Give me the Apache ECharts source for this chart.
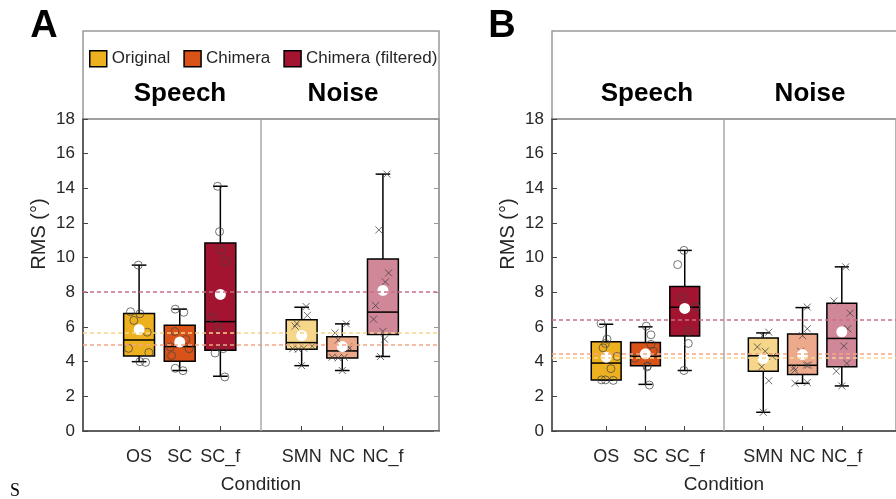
<!DOCTYPE html>
<html lang="en">

<head>
    <meta charset="utf-8">
    <title>RMS by condition</title>
    <script type="text/javascript" src="https://cdn.jsdelivr.net/npm/echarts@6/dist/echarts.min.js"></script>
    <style>
        body { margin: 0; background: #fff; }
        #chart { width: 896px; height: 499px; }
    </style>
</head>

<body>
    <div id="chart"></div>

    <script>
        const conditions = ['OS', 'SC', 'SC_f', 'SMN', 'NC', 'NC_f'];
        const positions = [1, 2, 3, 5, 6, 7];
        const groupNames = ['Original', 'Chimera', 'Chimera (filtered)'];

        // box stats per condition: [min, q1, median, q3, max]
        const boxA = [
            [4.00, 4.32, 5.25, 6.78, 9.57],
            [3.49, 4.02, 4.87, 6.10, 7.03],
            [3.16, 4.66, 6.31, 10.84, 14.12],
            [3.77, 4.72, 5.10, 6.42, 7.14],
            [3.49, 4.21, 4.62, 5.44, 6.18],
            [4.30, 5.57, 6.86, 9.93, 14.82]
        ];
        const boxB = [
            [2.94, 2.94, 3.92, 5.15, 6.16],
            [2.69, 3.77, 4.30, 5.10, 6.01],
            [3.49, 5.48, 7.14, 8.34, 10.42],
            [1.08, 3.45, 4.34, 5.36, 5.66],
            [2.75, 3.26, 3.79, 5.59, 7.12],
            [2.60, 3.71, 5.34, 7.37, 9.47]
        ];
        const meanA = [5.85, 5.13, 7.88, 5.51, 4.87, 8.11];
        const meanB = [4.26, 4.45, 7.07, 4.17, 4.41, 5.72];
        // dashed reference lines (Original, Chimera, Chimera filtered)
        const refLineA = [5.66, 4.96, 8.01];
        const refLineB = [4.21, 4.43, 6.42];

        // single subjects: [x offset, value]
        const ptsA_OS = [[-0.02, 9.57], [-0.21, 6.88], [0.02, 6.76], [-0.13, 6.38], [0.20, 5.70], [-0.26, 4.77], [0.24, 4.53], [0.02, 4.00], [0.16, 3.96]];
        const ptsA_SC = [[-0.11, 7.03], [0.10, 6.85], [-0.12, 5.74], [0.15, 5.28], [-0.23, 4.85], [0.23, 4.75], [-0.20, 4.35], [-0.11, 3.62], [0.08, 3.48]];
        const ptsA_SCf = [[-0.07, 14.12], [-0.02, 11.5], [0.02, 10.45], [0.12, 9.8], [-0.22, 6.55], [-0.06, 6.05], [0.07, 4.75], [-0.13, 4.5], [0.11, 3.12]];
        const ptsA_SMN = [[0.11, 7.18], [0.14, 6.67], [-0.12, 6.2], [-0.16, 6.05], [-0.22, 4.75], [-0.08, 4.72], [0.05, 4.78], [0.26, 4.9], [0.0, 3.77]];
        const ptsA_NC = [[0.10, 6.18], [-0.18, 5.66], [-0.10, 5.25], [0.18, 4.77], [-0.25, 4.26], [-0.10, 4.22], [0.05, 4.25], [0.0, 3.49], [0.15, 4.85]];
        const ptsA_NCf = [[0.10, 14.82], [-0.10, 11.6], [0.14, 9.12], [0.06, 8.6], [-0.18, 7.24], [-0.23, 6.45], [0.0, 5.75], [0.04, 5.3], [-0.06, 4.3]];

        const ptsB_OS = [[-0.13, 6.2], [0.02, 5.3], [-0.02, 5.05], [-0.08, 4.8], [0.28, 4.3], [0.12, 3.6], [-0.12, 2.95], [-0.02, 2.95], [0.18, 2.92]];
        const ptsB_SC = [[0.02, 6.05], [0.14, 5.55], [0.14, 5.0], [0.20, 4.6], [-0.27, 4.2], [0.05, 3.75], [0.04, 3.7], [0.10, 2.65], [0.0, 4.45]];
        const ptsB_SCf = [[-0.02, 10.42], [-0.18, 9.6], [-0.07, 7.7], [0.28, 7.15], [0.09, 5.75], [0.09, 5.05], [-0.02, 3.49]];
        const ptsB_SMN = [[0.14, 5.7], [-0.02, 5.5], [-0.15, 4.85], [0.05, 4.6], [0.24, 4.3], [-0.04, 3.7], [0.14, 2.9], [0.0, 1.08]];
        const ptsB_NC = [[0.12, 7.15], [0.12, 5.9], [0.0, 5.5], [-0.05, 4.6], [-0.22, 3.65], [-0.20, 3.5], [0.10, 3.8], [0.15, 3.8], [-0.19, 2.75], [0.12, 2.8]];
        const ptsB_NCf = [[0.10, 9.47], [-0.20, 7.5], [0.21, 6.8], [0.15, 5.9], [0.05, 4.9], [0.13, 3.9], [-0.14, 3.45], [0.0, 2.6]];

        const fullColor = ['#EDB120', '#D95319', '#A2142F'];
        const lightColor = ['#F6D68B', '#EDA98B', '#D08797'];
        const dashColor = ['#F8D58C', '#F2A585', '#CC6F88'];
        const font = 'Liberation Sans, Arial, sans-serif';

        const chart = echarts.init(document.getElementById('chart'));

        function renderBox(hue) {
            return function (params, api) {
                const x = api.value(0);
                const fill = params.dataIndex === 0 ? fullColor[hue] : lightColor[hue];
                const pt = (dx, v) => api.coord([x + dx, v]);
                const line = { stroke: '#000', lineWidth: 1.5 };
                const top = pt(-0.38, api.value(4));
                const bot = pt(0.38, api.value(2));
                const seg = (a, b) => ({ type: 'line', shape: { x1: a[0], y1: a[1], x2: b[0], y2: b[1] }, style: line });
                return {
                    type: 'group',
                    children: [
                        seg(pt(0, api.value(5)), pt(0, api.value(4))),
                        seg(pt(0, api.value(1)), pt(0, api.value(2))),
                        seg(pt(-0.18, api.value(5)), pt(0.18, api.value(5))),
                        seg(pt(-0.18, api.value(1)), pt(0.18, api.value(1))),
                        {
                            type: 'rect',
                            shape: { x: top[0], y: top[1], width: bot[0] - top[0], height: bot[1] - top[1] },
                            style: { fill: fill, stroke: '#000', lineWidth: 1.5 }
                        },
                        seg(pt(-0.38, api.value(3)), pt(0.38, api.value(3)))
                    ]
                };
            };
        }

        function panelSeries(g, box, means, refLines, speechPts, noisePts) {
            const axes = { xAxisIndex: g, yAxisIndex: g === 0 ? 0 : 2 };
            const list = [];
            list.push(Object.assign({
                type: 'line',
                data: [],
                z: 1,
                markLine: {
                    silent: true,
                    symbol: 'none',
                    label: { show: false },
                    data: refLines.map((v, i) => ({
                        yAxis: v,
                        lineStyle: { color: dashColor[i], type: [4, 3], width: 1.5 }
                    })).concat([{ xAxis: 4, lineStyle: { color: '#a8a8a8', type: 'solid', width: 1.5 } }])
                }
            }, axes));
            for (let h = 0; h < 3; h++) {
                list.push(Object.assign({
                    type: 'custom',
                    name: groupNames[h],
                    z: 2,
                    itemStyle: { color: fullColor[h] },
                    renderItem: renderBox(h),
                    encode: { x: 0, y: [1, 2, 3, 4, 5] },
                    data: [h, h + 3].map(i => [positions[i]].concat(box[i]))
                }, axes));
            }
            const speechData = [];
            speechPts.forEach((pts, i) => pts.forEach(p => speechData.push([positions[i] + p[0], p[1]])));
            const noiseData = [];
            noisePts.forEach((pts, i) => pts.forEach(p => noiseData.push([positions[i + 3] + p[0], p[1]])));
            list.push(Object.assign({
                type: 'scatter', z: 3, symbol: 'circle', symbolSize: 8, silent: true,
                itemStyle: { color: 'rgba(0,0,0,0)', borderColor: 'rgba(70,70,70,0.75)', borderWidth: 1, opacity: 1 },
                data: speechData
            }, axes));
            list.push(Object.assign({
                type: 'scatter', z: 3, symbol: 'path://M0,0L10,10M0,10L10,0', symbolSize: 7, silent: true,
                itemStyle: { color: 'none', borderColor: 'rgba(70,70,70,0.8)', borderWidth: 1, opacity: 1 },
                data: noiseData
            }, axes));
            list.push(Object.assign({
                type: 'scatter', z: 4, symbolSize: 11, silent: true,
                itemStyle: { color: '#fff', opacity: 1 },
                data: means.map((m, i) => [positions[i], m])
            }, axes));
            return list;
        }

        function xAxisFor(g) {
            return {
                type: 'value', gridIndex: g, min: -0.38, max: 8.38,
                splitLine: { show: false },
                axisLine: { onZero: false, lineStyle: { color: '#444', width: 1.5 } },
                axisTick: { inside: true, length: 5, customValues: positions, lineStyle: { color: '#444' } },
                axisLabel: {
                    customValues: positions, margin: 17, fontSize: 18, fontFamily: font, color: '#262626',
                    formatter: v => conditions[positions.indexOf(v)] || ''
                },
                name: 'Condition', nameLocation: 'middle', nameGap: 44,
                nameTextStyle: { fontSize: 19, fontFamily: font, color: '#262626' }
            };
        }

        function yAxisFor(g, pos) {
            const left = pos === 'left';
            return {
                type: 'value', gridIndex: g, position: pos, min: 0, max: 18, interval: 2,
                splitLine: { show: false },
                axisLine: { show: true, onZero: false, lineStyle: { color: left ? '#444' : '#999', width: 1.5 } },
                axisTick: { inside: true, length: 5, lineStyle: { color: left ? '#444' : '#999' } },
                axisLabel: { show: left, margin: 8, fontSize: 17, fontFamily: font, color: '#262626' }
            };
        }

        function headerText(x, y, text, size) {
            return {
                type: 'text', x: x, y: y,
                style: { text: text, font: 'bold ' + size + 'px ' + font, fill: '#000', textAlign: 'center', textVerticalAlign: 'middle' }
            };
        }

        function ylabel(x) {
            return {
                type: 'text', x: x, y: 234, rotation: Math.PI / 2,
                style: { text: 'RMS (°)', font: '20px ' + font, fill: '#262626', textAlign: 'center', textVerticalAlign: 'middle' }
            };
        }

        const option = {
            animation: false,
            backgroundColor: '#fff',
            grid: [
                { left: 83, top: 119, width: 356, height: 317, show: true, borderColor: '#999', borderWidth: 1.5 },
                { left: 552, top: 119, width: 356, height: 317, show: true, borderColor: '#999', borderWidth: 1.5 }
            ],
            xAxis: [xAxisFor(0), xAxisFor(1)],
            yAxis: [yAxisFor(0, 'left'), yAxisFor(0, 'right'), yAxisFor(1, 'left')],
            legend: {
                data: groupNames,
                left: 84, top: 45,
                icon: 'rect', itemWidth: 17, itemHeight: 16, itemGap: 13,
                itemStyle: { borderColor: '#000', borderWidth: 1.5 },
                textStyle: { fontSize: 17, fontFamily: font, color: '#262626' },
                selectedMode: false
            },
            graphic: [
                { type: 'rect', shape: { x: 83, y: 31, width: 356, height: 88 }, style: { fill: 'none', stroke: '#999', lineWidth: 1.5 } },
                { type: 'rect', shape: { x: 552, y: 31, width: 356, height: 88 }, style: { fill: 'none', stroke: '#999', lineWidth: 1.5 } },
                headerText(44, 27, 'A', 38),
                headerText(502, 27, 'B', 38),
                headerText(180, 94, 'Speech', 26),
                headerText(343, 94, 'Noise', 26),
                headerText(647, 94, 'Speech', 26),
                headerText(810, 94, 'Noise', 26),
                ylabel(39),
                ylabel(508),
                {
                    type: 'text', x: 15, y: 491,
                    style: { text: 'S', font: '18px Liberation Serif, serif', fill: '#000', textAlign: 'center', textVerticalAlign: 'middle' }
                }
            ],
            series: panelSeries(0, boxA, meanA, refLineA,
                [ptsA_OS, ptsA_SC, ptsA_SCf], [ptsA_SMN, ptsA_NC, ptsA_NCf])
                .concat(panelSeries(1, boxB, meanB, refLineB,
                    [ptsB_OS, ptsB_SC, ptsB_SCf], [ptsB_SMN, ptsB_NC, ptsB_NCf]))
        };

        chart.setOption(option);
    </script>
</body>

</html>
